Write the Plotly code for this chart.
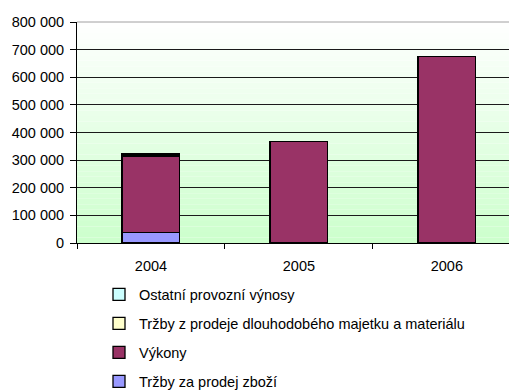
import plotly.graph_objects as go

years = ["2004", "2005", "2006"]
zbozi = [39000, 3000, 0]
vykony = [276000, 365000, 674000]
trzby_dlouh = [5000, 0, 0]
ostatni = [3000, 0, 0]

series = [
    ("Tržby za prodej zboží", zbozi, "#9999FF"),
    ("Výkony", vykony, "#993366"),
    ("Tržby z prodeje dlouhodobého majetku a materiálu", trzby_dlouh, "#FFFFCC"),
    ("Ostatní provozní výnosy", ostatni, "#CCFFFF"),
]

fig = go.Figure()
for i, (name, vals, col) in enumerate(series):
    fig.add_trace(go.Bar(
        x=years, y=vals, name=name, marker_color=col,
        marker_line=dict(color="#000000", width=1.3),
        legendgroup=str(i), legendrank=len(series) - i,
    ))

# background gradient (white at top -> light green at bottom)
n = 40
shapes = []
for k in range(n):
    t = (k + 0.5) / n
    r = int(round(255 + (204 - 255) * (1 - t)))
    shapes.append(dict(type="rect", xref="x domain", yref="y domain",
                       x0=0, x1=1, y0=k / n, y1=(k + 1) / n,
                       fillcolor=f"rgb({r},255,{r})", line_width=0, layer="below"))
shapes.append(dict(type="line", xref="x domain", yref="y domain", x0=0, x1=1, y0=1, y1=1,
                   line=dict(color="#a0a0a0", width=1)))

FS = 14.5
fig.update_layout(
    width=509, height=390,
    margin=dict(l=77, r=0, t=22, b=147, autoexpand=False),
    barmode="stack", bargap=0.61,
    paper_bgcolor="white", plot_bgcolor="white",
    font=dict(family="Liberation Sans, Arial, sans-serif", size=FS, color="#000"),
    separators=", ",
    shapes=shapes,
    showlegend=True,
    legend=dict(x=(99 - 77) / 432, xanchor="left", y=-0.16, yanchor="top",
                traceorder="grouped", tracegroupgap=7.2,
                font=dict(size=FS), bgcolor="rgba(0,0,0,0)",
                itemwidth=30),
    xaxis=dict(range=[-0.5, 2.42], tickson="boundaries", ticks="outside", ticklen=5,
               tickcolor="#000", showline=True, linecolor="#000", linewidth=1,
               showgrid=False, tickfont=dict(size=FS), ticklabelstandoff=10),
    yaxis=dict(range=[0, 800000], tickvals=[0, 100000, 200000, 300000, 400000, 500000, 600000, 700000, 800000],
               tickformat=",d", ticks="outside", ticklen=6, tickcolor="#000",
               showline=True, linecolor="#000", linewidth=1,
               showgrid=True, gridcolor="#1a1a1a", gridwidth=1, zeroline=False,
               tickfont=dict(size=FS), ticklabelstandoff=3),
)

fig.write_html("out.html")
